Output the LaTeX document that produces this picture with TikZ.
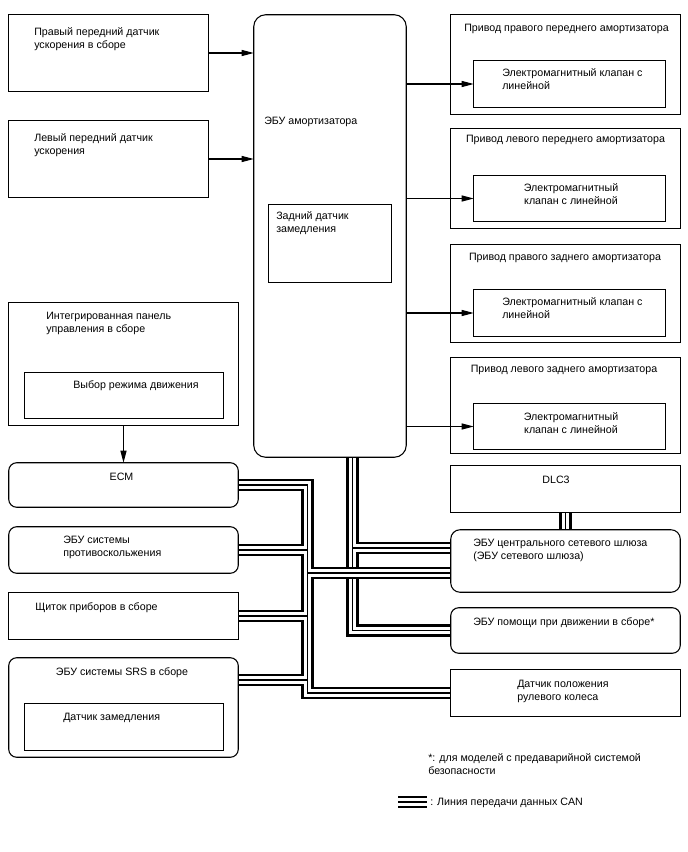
\documentclass[tikz,border=0pt]{standalone}
\usepackage{fontspec}
\setmainfont{Liberation Sans}
\usetikzlibrary{arrows.meta,fit}
\begin{document}
\begin{tikzpicture}[x=0.75pt,y=-0.75pt,
  box/.style={draw,line width=0.8pt,inner sep=0pt},
  rbox/.style={box,rounded corners=6pt},
  lbl/.style={anchor=north west,inner sep=0pt,align=left,font=\fontsize{8}{9.8}\selectfont},
  clbl/.style={anchor=north,inner sep=0pt,align=center,font=\fontsize{8}{9.8}\selectfont},
  arr/.style={line width=0.8pt,-{Triangle[length=9pt,width=4.5pt]}},
  busk/.style={line width=9.6pt},
  busw/.style={white,line width=5.6pt},
  busi/.style={line width=1.2pt}]
\useasboundingbox (0,0) rectangle (688,852);

% boxes (geometry only, drawn later on top of the buses)
\path
  node[fit={(9,15)(208,91)},inner sep=0pt] (b1) {}
  node[fit={(9,121)(208,197)},inner sep=0pt] (b2) {}
  node[fit={(254,15)(406,457)},inner sep=0pt] (ecu) {}
  node[fit={(269,205)(391,282)},inner sep=0pt] (ecuin) {}
  node[fit={(451,15)(680,114)},inner sep=0pt] (r1) {}
  node[fit={(474,61)(665,107)},inner sep=0pt] (r1i) {}
  node[fit={(451,129)(680,228)},inner sep=0pt] (r2) {}
  node[fit={(474,176)(665,221)},inner sep=0pt] (r2i) {}
  node[fit={(451,245)(680,342)},inner sep=0pt] (r3) {}
  node[fit={(474,290)(665,336)},inner sep=0pt] (r3i) {}
  node[fit={(451,358)(680,453)},inner sep=0pt] (r4) {}
  node[fit={(474,404)(665,449)},inner sep=0pt] (r4i) {}
  node[fit={(9,303)(238,425)},inner sep=0pt] (pan) {}
  node[fit={(25,373)(223,418)},inner sep=0pt] (pani) {}
  node[fit={(9,463)(238,507)},inner sep=0pt] (ecm) {}
  node[fit={(9,527)(238,573)},inner sep=0pt] (skid) {}
  node[fit={(9,593)(238,639)},inner sep=0pt] (meter) {}
  node[fit={(9,658)(238,757)},inner sep=0pt] (srs) {}
  node[fit={(25,704)(223,750)},inner sep=0pt] (srsi) {}
  node[fit={(451,466)(680,512)},inner sep=0pt] (dlc) {}
  node[fit={(451,530)(680,592)},inner sep=0pt] (gw) {}
  node[fit={(451,608)(680,653)},inner sep=0pt] (drv) {}
  node[fit={(451,670)(680,716)},inner sep=0pt] (str) {};

\coordinate (v1) at (352.5,0);
\coordinate (v2) at (307.5,0);
\coordinate (gwa) at (451,548);
\coordinate (gwb) at (451,573);
\coordinate (srsa) at (238,680);
\coordinate (la) at (398,802);
\coordinate (lb) at (427,802);

% CAN buses
\def\busA{(ecu.south -| v1) -- (v1 |- drv.west) -- (drv.west) (v1 |- gwa) -- (gwa)}
\def\busB{(ecm.east) -| (v2 |- str.west) -- (str.west) (skid.east) -- (skid.east -| v2) (meter.east) -- (meter.east -| v2) (srsa) -- (srsa -| v2) (v2 |- gwb) -- (gwb)}
\def\busC{(dlc.south) -- (gw.north)}
\def\busL{(la) -- (lb)}
\draw[busk] \busA; \draw[busw] \busA; \draw[busi] \busA;
\draw[busk] \busB; \draw[busw] \busB; \draw[busi] \busB;
\draw[busk] \busC; \draw[busw] \busC; \draw[busi] \busC;
\draw[busk] \busL; \draw[busw] \busL; \draw[busi] \busL;

% draw box outlines
\draw[box] (b1.north west) rectangle (b1.south east);
\draw[box] (b2.north west) rectangle (b2.south east);
\draw[box,rounded corners=9pt] (ecu.north west) rectangle (ecu.south east);
\draw[box] (ecuin.north west) rectangle (ecuin.south east);
\foreach \n in {r1,r1i,r2,r2i,r3,r3i,r4,r4i,pan,pani,meter,srsi,dlc,str}
  \draw[box] (\n.north west) rectangle (\n.south east);
\foreach \n in {ecm,skid,srs,drv}
  \draw[rbox] (\n.north west) rectangle (\n.south east);
\draw[box,rounded corners=7pt] (gw.north west) rectangle (gw.south east);

% arrows
\draw[arr] (b1.east) -- (b1.east -| ecu.west);
\draw[arr] (b2.east) -- (b2.east -| ecu.west);
\draw[arr] (r1i.west -| ecu.east) -- (r1i.west);
\draw[arr] (r2i.west -| ecu.east) -- (r2i.west);
\draw[arr] (r3i.west -| ecu.east) -- (r3i.west);
\draw[arr] (r4i.west -| ecu.east) -- (r4i.west);
\draw[arr] (pan.south) -- (ecm.north);

% texts
\node[lbl] (t1) at (34,27) {Правый передний датчик\\ускорения в сборе};
\node[lbl] (t2) at (34,133) {Левый передний датчик\\ускорения};
\node[lbl] (t3) at (264,117) {ЭБУ амортизатора};
\node[lbl] (t4) at (276,211) {Задний датчик\\замедления};
\node[clbl] (t5) at (566.5,24) {Привод правого переднего амортизатора};
\node[lbl] (t6) at (502,68) {Электромагнитный клапан с\\линейной};
\node[clbl] (t7) at (565.5,135) {Привод левого переднего амортизатора};
\node[clbl] (t8) at (571,183) {Электромагнитный\\клапан с линейной};
\node[clbl] (t9) at (565,253) {Привод правого заднего амортизатора};
\node[lbl] (t10) at (502,297) {Электромагнитный клапан с\\линейной};
\node[clbl] (t11) at (564,365) {Привод левого заднего амортизатора};
\node[clbl] (t12) at (571,412) {Электромагнитный\\клапан с линейной};
\node[lbl] (t13) at (46,312) {Интегрированная панель\\управления в сборе};
\node[lbl] (t14) at (73,380) {Выбор режима движения};
\node[clbl] (t15) at (121.5,473) {ECM};
\node[lbl] (t16) at (63,536) {ЭБУ системы\\противоскольжения};
\node[lbl] (t17) at (35,602) {Щиток приборов в сборе};
\node[clbl] (t18) at (122,667) {ЭБУ системы SRS в сборе};
\node[lbl] (t19) at (63,713) {Датчик замедления};
\node[clbl] (t20) at (556,476) {DLC3};
\node[lbl] (t21) at (473,539) {ЭБУ центрального сетевого шлюза\\(ЭБУ сетевого шлюза)};
\node[lbl] (t22) at (473,617) {ЭБУ помощи при движении в сборе*};
\node[lbl] (t23) at (517,680) {Датчик положения\\рулевого колеса};
\node[lbl] (t24) at (428,753) {*: для моделей с предаварийной системой\\безопасности};
\node[lbl] (t25) at (430,798) {: Линия передачи данных CAN};
\end{tikzpicture}
\end{document}
